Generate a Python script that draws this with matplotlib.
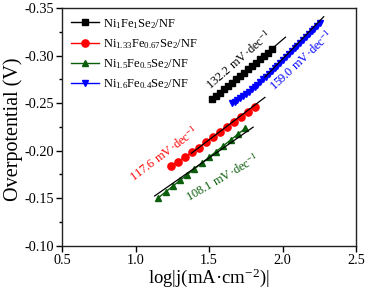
import numpy as np
import matplotlib
matplotlib.use("Agg")
import matplotlib.pyplot as plt
from matplotlib.ticker import MultipleLocator

plt.rcParams['font.family'] = ['Liberation Serif', 'DejaVu Serif']
plt.rcParams['mathtext.fontset'] = 'custom'
plt.rcParams['mathtext.rm'] = 'Liberation Serif'
plt.rcParams['mathtext.default'] = 'regular'
plt.rcParams['axes.unicode_minus'] = False

# ---- data ----
labels = [r'Ni$_1$Fe$_1$Se$_2$/NF', r'Ni$_{1.33}$Fe$_{0.67}$Se$_2$/NF',
          r'Ni$_{1.5}$Fe$_{0.5}$Se$_2$/NF', r'Ni$_{1.6}$Fe$_{0.4}$Se$_2$/NF']

black_x = [1.518, 1.546, 1.573, 1.601, 1.628, 1.656, 1.683, 1.711, 1.738, 1.766,
           1.793, 1.821, 1.848, 1.876, 1.903, 1.931]
black_y = [-0.2540, -0.2575, -0.2610, -0.2645, -0.2680, -0.2715, -0.2750, -0.2785,
           -0.2820, -0.2855, -0.2890, -0.2925, -0.2960, -0.2995, -0.3030, -0.3065]

red_x = [1.241, 1.288, 1.336, 1.383, 1.431, 1.478, 1.525, 1.573, 1.620, 1.668,
         1.715, 1.762, 1.810]
red_y = [-0.1837, -0.1882, -0.1930, -0.1980, -0.2032, -0.2085, -0.2139, -0.2193,
         -0.2247, -0.2301, -0.2355, -0.2409, -0.2463]

green_x = [1.155, 1.204, 1.253, 1.303, 1.352, 1.401, 1.450, 1.499, 1.548, 1.598,
           1.647, 1.696, 1.745]
green_y = [-0.1503, -0.1564, -0.1625, -0.1686, -0.1747, -0.1808, -0.1868, -0.1929,
           -0.1990, -0.2051, -0.2112, -0.2172, -0.2233]

blue_x = [1.654, 1.674, 1.693, 1.713, 1.732, 1.751, 1.771, 1.790, 1.810, 1.829,
          1.849, 1.868, 1.887, 1.907, 1.926, 1.946, 1.965, 1.985, 2.004, 2.023,
          2.043, 2.062, 2.082, 2.101, 2.120, 2.140, 2.159, 2.178, 2.198, 2.217,
          2.236, 2.255]
blue_y = [-0.2497, -0.2514, -0.2533, -0.2553, -0.2574, -0.2596, -0.2619, -0.2643,
          -0.2668, -0.2694, -0.2721, -0.2749, -0.2777, -0.2806, -0.2835, -0.2864,
          -0.2894, -0.2924, -0.2954, -0.2984, -0.3014, -0.3044, -0.3074, -0.3104,
          -0.3134, -0.3164, -0.3194, -0.3224, -0.3254, -0.3284, -0.3314, -0.3344]

tafel_slopes = [132.2, 117.6, 108.1, 159.0]          # mV/dec
fit_ranges = [(1.52, 2.02), (1.38, 1.88), (1.13, 1.80), (1.88, 2.28)]

colors = ['black', '#ff0000', '#0b5e0b', '#0000ff']
markers = ['s', 'o', '^', 'v']
msizes = [4.5, 5.2, 5.0, 4.8]

series = [(black_x, black_y), (red_x, red_y), (green_x, green_y), (blue_x, blue_y)]

fig = plt.figure(figsize=(3.69, 2.91), dpi=100)
ax = fig.add_axes([0.168, 0.156, 0.797, 0.8165])

for (xs, ys), c, m, ms, lab in zip(series, colors, markers, msizes, labels):
    ax.plot(xs, ys, color=c, marker=m, ms=ms, lw=1.0, label=lab, mec=c, mfc=c)

# fitted Tafel lines
for (xs, ys), s, (x0, x1) in zip(series, tafel_slopes, fit_ranges):
    xs = np.asarray(xs); ys = np.asarray(ys)
    k = -s / 1000.0
    b = np.mean(ys - k * xs)
    xx = np.array([x0, x1])
    ax.plot(xx, k * xx + b, color='black', lw=0.9, zorder=3)

# annotations
ann = [
    ('132.2 mV·dec$^{-1}$', 1.703, -0.2953, 41, 'black'),
    ('117.6 mV·dec$^{-1}$', 1.196, -0.1963, 37, '#ff0000'),
    ('108.1 mV·dec$^{-1}$', 1.590, -0.1718, 30, '#0b5e0b'),
    ('159.0 mV·dec$^{-1}$', 2.130, -0.2945, 43, '#0000ff'),
]
for t, x, y, rot, c in ann:
    ax.text(x, y, t, rotation=rot, color=c, fontsize=9, ha='center', va='center',
            rotation_mode='anchor')

ax.set_xlim(0.5, 2.5)
ax.set_ylim(-0.10, -0.35)
ax.xaxis.set_major_locator(MultipleLocator(0.5))
ax.yaxis.set_major_locator(MultipleLocator(0.05))
ax.yaxis.set_minor_locator(MultipleLocator(0.025))
ax.xaxis.set_major_formatter(matplotlib.ticker.FormatStrFormatter('%.1f'))
ax.yaxis.set_major_formatter(matplotlib.ticker.FormatStrFormatter('%.2f'))
ax.tick_params(axis='both', which='major', direction='out', length=4, width=1,
               labelsize=10.3, pad=2)
ax.tick_params(axis='y', which='minor', direction='out', length=2.5, width=1)
for sp in ax.spines.values():
    sp.set_linewidth(1.0)
    sp.set_color('#222222')

ax.set_ylabel('Overpotential (V)', fontsize=14.5, va='center')
ax.yaxis.set_label_coords(-0.165, 0.49)
ax.set_xlabel('log|j(mA·cm$^{-2}$)|', fontsize=13.5, va='center')
ax.xaxis.set_label_coords(0.5, -0.137)

leg = ax.legend(loc='upper left', frameon=False, fontsize=9, handlelength=2.3,
                handletextpad=0.3, labelspacing=0.52, borderaxespad=0.3,
                bbox_to_anchor=(0.0, 1.0))

fig.savefig('out.png', dpi=100)
